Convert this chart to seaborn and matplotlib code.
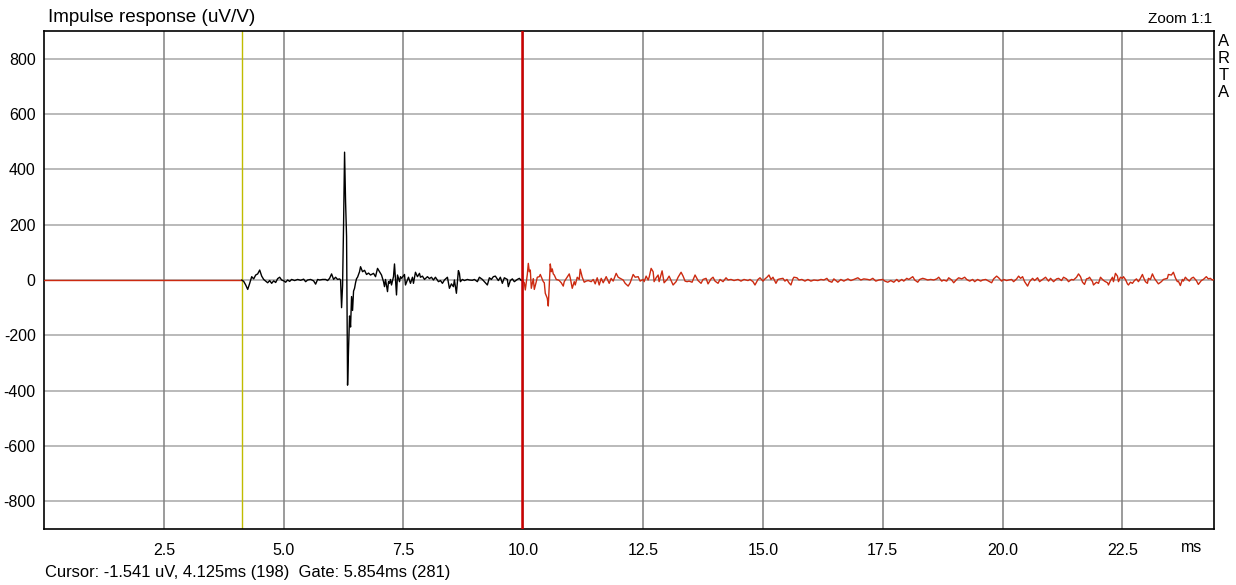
import matplotlib
matplotlib.use("Agg")
import matplotlib.pyplot as plt
import matplotlib.transforms as mtransforms
import numpy as np
import seaborn as sns

# ARTA impulse response, 48 kHz sampling, values in uV/V
FS_KHZ = 48.0
CURSOR_SAMPLE = 198
GATE_SAMPLES = 281

pre_samples = [0, 198]
pre_values = [0, 0]

gate_samples = [
    198, 200, 202, 204, 206, 208, 210, 212, 214, 216, 218, 220, 222, 224, 226, 228,
    230, 232, 234, 236, 238, 240, 242, 244, 246, 248, 251, 254, 257, 260, 262, 264,
    267, 270, 272, 274, 276, 279, 282, 284, 286, 288, 290, 292, 294, 296, 297, 298,
    299, 300, 301, 302, 303, 304, 305, 306, 307, 308, 309, 310, 311, 312, 313, 314,
    316, 317, 319, 321, 323, 325, 327, 330, 332, 334, 336, 338, 340, 341, 342, 344,
    345, 346, 347, 348, 350, 351, 352, 353, 354, 356, 357, 358, 361, 362, 364, 365,
    367, 369, 370, 372, 374, 376, 377, 379, 381, 384, 386, 388, 390, 392, 395, 397,
    399, 401, 404, 406, 408, 410, 411, 413, 415, 416, 417, 419, 421, 424, 426, 429,
    431, 434, 436, 439, 441, 444, 446, 448, 450, 452, 455, 457, 459, 461, 464, 465,
    467, 469, 471, 474, 476, 478, 479,
]
gate_values = [
    0, -5, -18, -34, -12, 12, 4, 18, 22, 36, 14, 2, -4, -10, -2, -12,
    -3, -9, 5, 10, 0, -3, -8, 0, -5, 2, -2, 2, -1, 3, -6, 0,
    2, -3, -15, 2, 0, 2, 2, -2, 6, 22, 2, 10, 2, 4, 0, -100,
    -20, 200, 462, 283, 157, -380, -245, -130, -170, -60, -110, -40, -30, -10, 5, 10,
    30, 48, 30, 35, 20, 25, 18, 24, 12, 42, 30, 18, -6, -24, 2, -42,
    -6, -12, 2, -18, 12, 58, 0, -54, 18, -6, 12, 6, 20, -18, 0, 10,
    -12, 10, -12, 28, 12, 24, 10, 14, 2, 12, 5, 10, 0, 10, -6, -2,
    -12, 0, 10, -30, -14, -24, 0, -48, 34, 24, -6, 2, -2, 2, 0, -1,
    2, -6, 10, 2, -6, -18, 8, 2, 12, 14, -2, 10, -12, 8, 2, -24,
    -2, 4, -6, 2, 6, -2, 0,
]

tail_samples = [
    479, 481, 482, 484, 485, 486, 487, 488, 490, 491, 493, 494, 496, 497, 499, 500,
    501, 502, 504, 505, 506, 507, 508, 509, 510, 511, 513, 515, 516, 518, 520, 521,
    523, 526, 527, 529, 531, 532, 534, 536, 537, 539, 541, 543, 545, 548, 550, 552,
    554, 556, 558, 560, 563, 565, 566, 568, 570, 573, 575, 577, 580, 582, 585, 587,
    590, 592, 595, 597, 600, 601, 603, 605, 606, 608, 610, 611, 613, 615, 616, 618,
    619, 621, 624, 626, 628, 630, 633, 635, 638, 640, 642, 644, 646, 649, 652, 655,
    658, 660, 663, 665, 668, 670, 672, 675, 677, 680, 683, 685, 688, 691, 695, 698,
    701, 705, 707, 710, 712, 715, 717, 720, 722, 724, 726, 728, 730, 733, 735, 737,
    740, 742, 744, 746, 748, 750, 751, 754, 756, 759, 762, 765, 768, 771, 775, 778,
    781, 784, 786, 789, 791, 795, 798, 801, 805, 808, 811, 815, 818, 821, 825, 827,
    830, 833, 836, 840, 842, 845, 848, 851, 854, 856, 859, 861, 864, 866, 870, 872,
    875, 877, 880, 882, 885, 888, 891, 894, 896, 899, 901, 904, 906, 909, 911, 914,
    916, 919, 922, 924, 927, 930, 932, 935, 938, 940, 943, 946, 949, 951, 954, 956,
    959, 961, 964, 966, 969, 971, 974, 976, 978, 980, 982, 985, 987, 990, 992, 995,
    997, 1000, 1003, 1006, 1008, 1011, 1014, 1016, 1019, 1021, 1024, 1026, 1029, 1031, 1034, 1036,
    1038, 1040, 1042, 1044, 1046, 1047, 1050, 1051, 1054, 1056, 1058, 1060, 1062, 1065, 1066, 1068,
    1070, 1071, 1073, 1075, 1076, 1078, 1080, 1081, 1083, 1085, 1086, 1088, 1090, 1092, 1094, 1096,
    1098, 1100, 1101, 1103, 1105, 1106, 1108, 1110, 1112, 1114, 1116, 1119, 1121, 1123, 1125, 1126,
    1129, 1131, 1133, 1135, 1136, 1138, 1140, 1141, 1143, 1145, 1147, 1149, 1151, 1154, 1156, 1159,
    1161, 1164, 1166, 1168, 1170, 1172,
]
tail_values = [
    0, -10, -36, 20, 60, 30, 36, -30, 5, -34, -6, 10, 12, 20, 2, -6,
    -10, -48, -66, -94, -20, 58, 30, 40, 22, 18, 2, 0, -2, -10, -22, -6,
    5, 22, 8, -30, -6, -18, 10, 2, 39, 10, -8, -4, -2, -6, 2, -14,
    8, -18, 6, -10, 12, -4, -12, 6, -4, 24, 10, 6, 0, -12, -22, -10,
    20, 10, 12, -4, 2, -6, 14, 0, 10, 42, 30, -6, 8, 18, -6, 20,
    33, -10, 2, 14, -2, -18, -6, 10, 28, 14, -4, -6, -4, -8, 18, -2,
    -12, 2, 6, -14, 4, 10, -4, -12, 2, -6, 8, 0, 2, -2, 2, -4,
    2, -2, 2, -6, -18, 2, 8, -4, 4, 10, 18, 2, 10, -12, 2, 4,
    6, -4, 2, -10, -18, 4, 10, 8, 0, 2, -4, 2, -4, 0, -2, 2,
    0, 6, -4, -8, 4, -8, 2, -4, 4, -2, 2, 8, 0, 4, 2, 0,
    6, -4, 0, 2, -4, -8, -2, -8, 2, -6, 2, -4, 6, 2, 12, 0,
    -8, 2, 6, 4, 0, 2, 0, 4, 10, -4, 0, -4, 8, 0, -10, 2,
    8, 4, 10, 2, -4, 2, -6, 2, -4, 0, 2, -4, -10, 4, 14, 8,
    -4, 2, -2, 0, 2, -6, 4, 14, 6, 12, -6, -22, -6, 6, -2, 8,
    -6, 2, 10, -4, 6, -6, 4, 6, -2, 10, 4, -6, 2, 0, 10, 22,
    12, -8, -16, 4, 6, 10, -6, -18, -8, -12, 10, 2, -4, -10, -18, -2,
    10, -6, 24, 14, -6, 10, 6, 12, 2, -14, -18, -8, -12, -2, 4, -6,
    6, 20, 10, -6, -12, 6, 2, 22, 6, -4, -14, -6, 2, 4, 6, 20,
    18, 28, 8, -6, -4, -20, 2, -4, 10, 2, -4, 6, 10, -2, -16, -2,
    2, 12, 4, 6, 0, 2,
]

y_ticks = [800, 600, 400, 200, 0, -200, -400, -600, -800]
x_ticks = [2.5, 5.0, 7.5, 10.0, 12.5, 15.0, 17.5, 20.0, 22.5]

sns.set_theme(style="white")
plt.rcParams["font.family"] = ["Liberation Sans", "DejaVu Sans"]
plt.rcParams["text.color"] = "black"

fig = plt.figure(figsize=(12.36, 5.85), dpi=100)
ax = fig.add_axes([44 / 1236, 56 / 585, 1170 / 1236, 498 / 585])

for yt in y_ticks:
    ax.axhline(yt, color="#b4b4b4", lw=1.3, zorder=1)
for xt in x_ticks:
    ax.axvline(xt, color="#808080", lw=1.1, zorder=1)

red = "#cc2a10"
sns.lineplot(x=np.array(pre_samples) / FS_KHZ, y=pre_values, color=red, lw=1.0, ax=ax, zorder=3)
sns.lineplot(x=np.array(tail_samples) / FS_KHZ, y=tail_values, color=red, lw=1.0, ax=ax, zorder=3,
             sort=False, estimator=None)
sns.lineplot(x=np.array(gate_samples) / FS_KHZ, y=gate_values, color="black", lw=1.0, ax=ax, zorder=4,
             sort=False, estimator=None)

cursor_ms = CURSOR_SAMPLE / FS_KHZ
gate_end_ms = (CURSOR_SAMPLE + GATE_SAMPLES) / FS_KHZ
ax.axvline(cursor_ms, color="#c0bc00", lw=1.0, zorder=2)
ax.axvline(gate_end_ms, color="#cc0000", lw=1.8, zorder=5)

ax.set_xlim(0, 24.41)
ax.set_ylim(-900, 900)
ax.set_xticks(x_ticks)
ax.set_xticklabels([f"{v:.1f}" for v in x_ticks])
ax.set_yticks(y_ticks)
ax.set_yticklabels([str(v) for v in y_ticks])
ax.tick_params(axis="both", length=0, labelsize=11.5, colors="black")
ax.tick_params(axis="x", pad=10)
ax.tick_params(axis="y", pad=6)
ax.set_xlabel("")
ax.set_ylabel("")
for sp in ax.spines.values():
    sp.set_color("black")
    sp.set_linewidth(1.2)

trans = mtransforms.blended_transform_factory(ax.transAxes, ax.transAxes)
ax.text(0.99, -0.038, "ms", transform=trans, ha="right", va="center", fontsize=11.5)

fig.text(48 / 1236, 1 - 18 / 585, "Impulse response (uV/V)", ha="left", va="center", fontsize=13.6)
fig.text(1212 / 1236, 1 - 19 / 585, "Zoom 1:1", ha="right", va="center", fontsize=11)
for i, ch in enumerate("ARTA"):
    fig.text(1224 / 1236, 1 - (41 + 17.3 * i) / 585, ch, ha="center", va="center", fontsize=12)
fig.text(45 / 1236, 1 - 572 / 585,
         "Cursor: -1.541 uV, 4.125ms (198)  Gate: 5.854ms (281)",
         ha="left", va="center", fontsize=11.9)

fig.savefig("out.png", dpi=100)
plt.close(fig)
